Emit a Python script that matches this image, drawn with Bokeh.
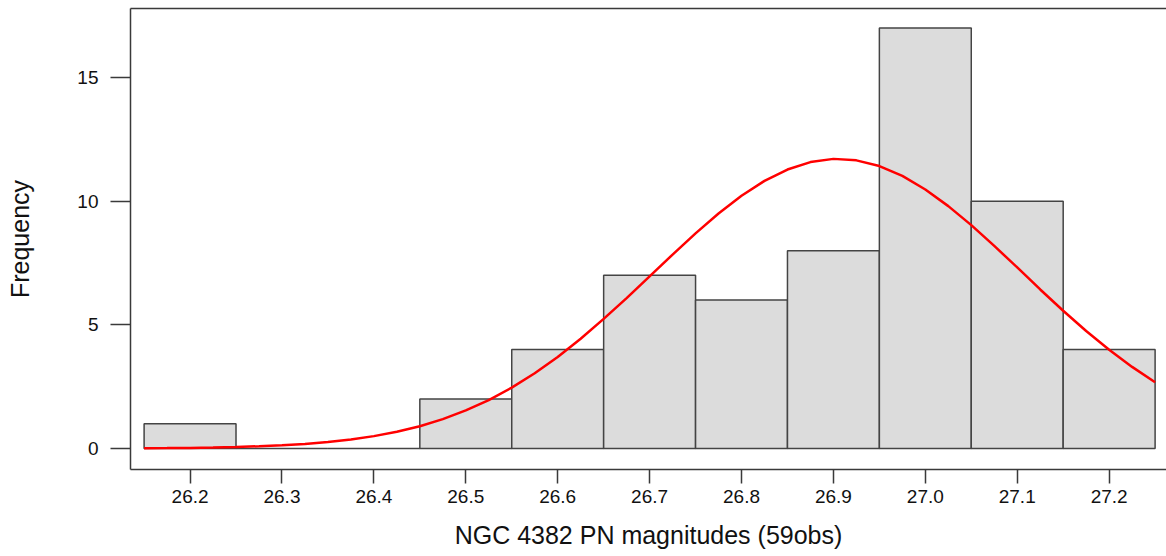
from bokeh.plotting import figure
from bokeh.models import Range1d, LinearAxis, FixedTicker
from bokeh.embed import file_html
from bokeh.resources import INLINE

# Histogram data
bin_left = [26.15, 26.25, 26.35, 26.45, 26.55, 26.65, 26.75, 26.85, 26.95, 27.05, 27.15]
bin_right = [26.25, 26.35, 26.45, 26.55, 26.65, 26.75, 26.85, 26.95, 27.05, 27.15, 27.25]
counts = [1, 0, 0, 2, 4, 7, 6, 8, 17, 10, 4]

# Fitted normal curve
curve_x = [26.15, 26.175, 26.20, 26.225, 26.25, 26.275, 26.30, 26.325, 26.35, 26.375,
           26.40, 26.425, 26.45, 26.475, 26.50, 26.525, 26.55, 26.575, 26.60, 26.625,
           26.65, 26.675, 26.70, 26.725, 26.75, 26.775, 26.80, 26.825, 26.85, 26.875,
           26.90, 26.925, 26.95, 26.975, 27.00, 27.025, 27.05, 27.075, 27.10, 27.125,
           27.15, 27.175, 27.20, 27.225, 27.25]
curve_y = [0.01, 0.016, 0.025, 0.04, 0.06, 0.09, 0.13, 0.18, 0.26, 0.36,
           0.50, 0.68, 0.90, 1.19, 1.54, 1.96, 2.46, 3.04, 3.70, 4.44,
           5.24, 6.08, 6.96, 7.84, 8.70, 9.50, 10.22, 10.82, 11.28, 11.58,
           11.71, 11.65, 11.42, 11.02, 10.47, 9.80, 9.03, 8.19, 7.32, 6.43,
           5.57, 4.75, 3.99, 3.30, 2.68]

y_ticks = [0, 5, 10, 15]
x_ticks = [26.2, 26.3, 26.4, 26.5, 26.6, 26.7, 26.8, 26.9, 27.0, 27.1, 27.2]
x_tick_labels = ["26.2", "26.3", "26.4", "26.5", "26.6", "26.7", "26.8", "26.9", "27.0", "27.1", "27.2"]

FONT = "Liberation Sans"
AX = "#3a3a3a"

p = figure(width=1166, height=556, output_backend="svg", toolbar_location=None,
           x_range=Range1d(26.1352, 27.2624), y_range=Range1d(-0.849, 17.79),
           min_border_left=130, min_border_right=0, min_border_top=8, min_border_bottom=87)
p.outline_line_color = None
p.grid.grid_line_color = None
p.background_fill_color = "white"
p.border_fill_color = "white"

p.quad(left=bin_left, right=bin_right, bottom=0, top=counts,
       fill_color="#dcdcdc", line_color="#444444", line_width=1.5)
p.line(curve_x, curve_y, line_color="#ff0000", line_width=2.5)

# axes
xa = p.xaxis[0]
xa.ticker = FixedTicker(ticks=x_ticks)
xa.major_label_overrides = {t: l for t, l in zip(x_ticks, x_tick_labels)}
xa.axis_label = "NGC 4382 PN magnitudes (59obs)"
xa.major_tick_out = 14
xa.major_tick_in = 0
xa.minor_tick_line_color = None
xa.major_label_standoff = 6
xa.axis_label_standoff = 15

ya = p.yaxis[0]
ya.ticker = FixedTicker(ticks=y_ticks)
ya.axis_label = "Frequency"
ya.major_tick_out = 20
ya.major_tick_in = 0
ya.minor_tick_line_color = None
ya.major_label_standoff = 12
ya.axis_label_standoff = 40
ya.major_label_orientation = "horizontal"

for ax in (xa, ya):
    ax.axis_line_color = AX
    ax.axis_line_width = 1.5
    ax.major_tick_line_color = AX
    ax.major_tick_line_width = 1.5
    ax.major_label_text_font = FONT
    ax.major_label_text_font_size = "19px"
    ax.major_label_text_color = "#111111"
    ax.axis_label_text_font = FONT
    ax.axis_label_text_font_size = "25px"
    ax.axis_label_text_font_style = "normal"
    ax.axis_label_text_color = "#111111"

top = LinearAxis(ticker=FixedTicker(ticks=[]), major_tick_in=0, major_tick_out=0,
                 minor_tick_in=0, minor_tick_out=0, major_label_text_font_size="0px",
                 axis_line_color=AX, axis_line_width=1.5, major_label_standoff=0)
p.add_layout(top, "above")

open("out.html", "w").write(file_html(p, INLINE))
